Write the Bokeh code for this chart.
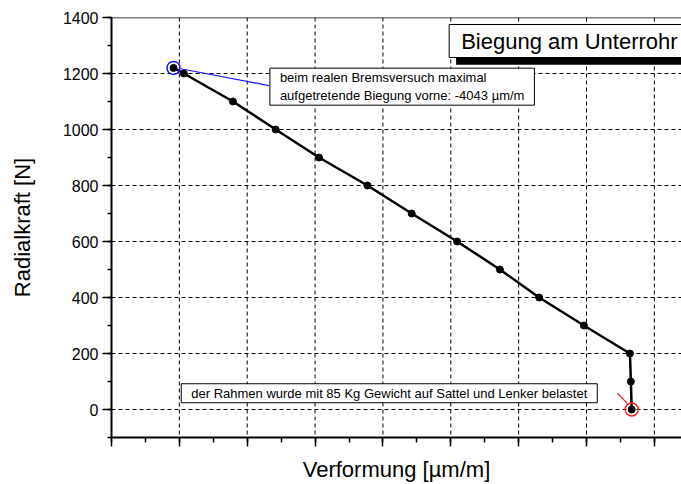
from bokeh.plotting import figure
from bokeh.models import (Range1d, SingleIntervalTicker, Span, Label, BoxAnnotation,
                          CustomJSTickFormatter)
from bokeh.embed import file_html
from bokeh.resources import INLINE

# Load test: radial force vs. measured strain on the down tube
force_n = [1220, 1200, 1100, 1000, 900, 800, 700, 600, 500, 400, 300, 200, 100, 0]
strain_um_m = [-4043, -3967, -3605, -3290, -2971, -2614, -2288, -1953,
               -1638, -1349, -1019, -680, -673, -667]

# highlighted points: maximum from the real braking test, and the unloaded start
max_strain, max_force = -4043, 1220
start_strain, start_force = -667, 0

# grid positions (major ticks inside the frame)
x_grid_ticks = [-4000, -3500, -3000, -2500, -2000, -1500, -1000, -500]
y_grid_ticks = [0, 200, 400, 600, 800, 1000, 1200]

title_text = "Biegung am Unterrohr"
note_max = "beim realen Bremsversuch maximal\naufgetretende Biegung vorne: -4043 µm/m"
note_load = "der Rahmen wurde mit 85 Kg Gewicht auf Sattel und Lenker belastet"
y_title = "Radialkraft [N]"
x_title = "Verformung [µm/m]"

FONT = "Liberation Sans"

p = figure(width=681, height=484, output_backend="svg", toolbar_location=None,
           x_range=Range1d(-4500, -300), y_range=Range1d(-100, 1400),
           min_border_left=111, min_border_right=0, min_border_top=17,
           min_border_bottom=47)
p.outline_line_color = None
p.grid.visible = False

# axes
p.xaxis.ticker = SingleIntervalTicker(interval=500, num_minor_ticks=2)
p.yaxis.ticker = SingleIntervalTicker(interval=200, num_minor_ticks=2)

for ax in (p.xaxis, p.yaxis):
    ax.axis_line_width = 2
    ax.axis_line_color = "black"
    ax.major_tick_line_color = "black"
    ax.minor_tick_line_color = "black"
    ax.major_tick_line_width = 1.5
    ax.minor_tick_line_width = 1.5
    ax.major_tick_out = 9
    ax.major_tick_in = 0
    ax.minor_tick_in = 0
    ax.axis_label_text_font = FONT
    ax.axis_label_text_font_style = "normal"
    ax.axis_label_text_font_size = "22px"
    ax.axis_label_text_color = "black"
    ax.major_label_text_font = FONT
    ax.major_label_text_color = "black"

p.xaxis.minor_tick_out = 5
p.yaxis.minor_tick_out = 4
p.xaxis.axis_label = x_title
p.yaxis.axis_label = y_title
# strain axis carries ticks only, no numbers
p.xaxis.formatter = CustomJSTickFormatter(code="return ''")
p.xaxis.major_label_text_font_size = "1px"
p.xaxis.major_label_standoff = 0
p.xaxis.axis_label_standoff = 10
p.yaxis.major_label_text_font_size = "16px"
p.yaxis.major_label_standoff = 4
p.yaxis.axis_label_standoff = 25

# dashed grid
for xv in x_grid_ticks:
    p.add_layout(Span(location=xv, dimension="height", line_color="black",
                      line_width=1, line_dash="4 3", level="underlay"))
for yv in y_grid_ticks:
    p.add_layout(Span(location=yv, dimension="width", line_color="black",
                      line_width=1, line_dash="4 3", level="underlay"))

# top border of the frame
p.add_layout(Span(location=1400, dimension="width", line_color="black", line_width=1.5))

# measurement curve
p.line(strain_um_m, force_n, line_color="black", line_width=2.5)
p.scatter(strain_um_m, force_n, size=7, color="black")

# highlight rings
p.scatter([max_strain], [max_force], size=13, fill_color=None,
          line_color="#1a1aff", line_width=1.5)
p.scatter([start_strain], [start_force], size=13, fill_color=None,
          line_color="#ff2020", line_width=1.5)

# leader lines to the notes
p.segment(x0=[-3990], y0=[1217], x1=[-3340], y1=[1157], line_color="#1a1aff", line_width=1.2)
p.segment(x0=[-771], y0=[58], x1=[-700], y1=[22], line_color="#ff2020", line_width=1.2)

# note boxes
p.add_layout(Label(x=-3333, y=1219, text=note_max, text_font=FONT,
                   text_font_size="13px", text_color="black",
                   text_align="left", text_baseline="top",
                   background_fill_color="white", border_line_color="black",
                   border_line_width=1, padding=(10, 2)))
p.add_layout(Label(x=-3986, y=92, text=note_load, text_font=FONT,
                   text_font_size="13px", text_color="black",
                   text_align="left", text_baseline="top",
                   background_fill_color="white", border_line_color="black",
                   border_line_width=1, padding=(10, 2)))

# title box with drop shadow
p.add_layout(BoxAnnotation(left=-1961, right=-200, top=1350, bottom=1231,
                           fill_color="black", fill_alpha=1.0, line_color=None,
                           level="annotation"))
p.add_layout(Label(x=-2012, y=1375, text=title_text,
                   text_font=FONT, text_font_size="22px", text_color="black",
                   text_align="left", text_baseline="top",
                   background_fill_color="white", border_line_color="black",
                   border_line_width=1, padding=(12, 4)))

open("out.html", "w").write(file_html(p, INLINE))
